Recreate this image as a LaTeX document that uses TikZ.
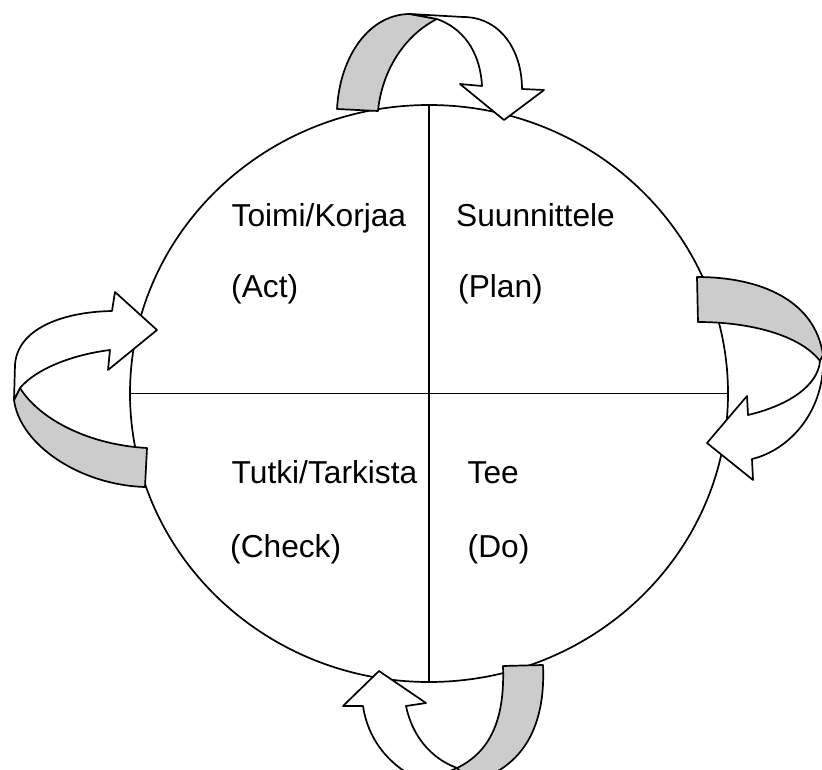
\documentclass[tikz,border=0pt]{standalone}
\usepackage{fontspec}
\setmainfont{Liberation Sans}
\usetikzlibrary{shapes.geometric}
\definecolor{band}{RGB}{204,204,204}
\begin{document}
\begin{tikzpicture}[x=1pt,y=-1pt,
  outline/.style={draw=black,line width=1.7pt,line join=round},
  backface/.style={outline,fill=band},
  frontface/.style={outline,fill=white},
  label/.style={anchor=base west,inner sep=0pt,font=\fontsize{31.7}{38}\selectfont}]
\useasboundingbox (0,0) rectangle (822,770);
\clip (0,0) rectangle (822,770);
% circle and dividers
\node[ellipse,draw,line width=1.7pt,minimum width=598pt,minimum height=577pt,inner sep=0pt] (cycle) at (429,393.5) {};
\draw[line width=1.7pt] (cycle.north) -- (cycle.south);
\draw[line width=1.7pt] (cycle.west) -- (cycle.east);
% top arrow
\draw[backface] (337,109) .. controls (340,55) and (370,14) .. (410,14) -- (437,19)
  .. controls (405,35) and (382,70) .. (378,111) -- cycle;
\draw[frontface] (410,14) -- (463,17) .. controls (500,17) and (522,50) .. (522,89)
  -- (544,90) -- (504,120) -- (460,84) -- (482,86)
  .. controls (480,50) and (462,28) .. (437,19) -- cycle;
% right arrow
\draw[backface] (697,277) .. controls (760,277) and (815,300) .. (823,355) -- (820,361)
  .. controls (800,335) and (750,322) .. (698,322) -- cycle;
\draw[frontface] (823,355) .. controls (826,410) and (790,450) .. (752,459)
  -- (753,480) -- (707,443) -- (747,396) -- (748,415)
  .. controls (790,405) and (818,385) .. (820,361) -- cycle;
% bottom arrow
\draw[backface] (503,666) -- (543,665) .. controls (546,730) and (520,770) .. (470,782)
  -- (457,768) .. controls (490,752) and (505,720) .. (503,666) -- cycle;
\draw[frontface] (363,706) .. controls (368,740) and (390,768) .. (425,782) -- (457,768)
  .. controls (430,758) and (412,735) .. (406,706) -- (426,703) -- (379,671) -- (343,706) -- cycle;
% left arrow
\draw[backface] (20,388) .. controls (40,420) and (90,445) .. (147,448) -- (145,487)
  .. controls (80,485) and (20,445) .. (14,400) -- cycle;
\draw[frontface] (14,400) -- (15,365) .. controls (17,330) and (60,312) .. (112,311)
  -- (115,292) -- (157,330) -- (108,370) -- (110,350)
  .. controls (70,355) and (35,370) .. (20,388) -- cycle;
% labels
\node[label] (act) at (231.5,227) {Toimi/Korjaa};
\node[label] (actE) at (231,298) {(Act)};
\node[label] (plan) at (456,227) {Suunnittele};
\node[label] (planE) at (458,298) {(Plan)};
\node[label] (check) at (231.5,483) {Tutki/Tarkista};
\node[label] (checkE) at (230,557) {(Check)};
\node[label] (do) at (467.5,483) {Tee};
\node[label] (doE) at (467.5,557) {(Do)};
\end{tikzpicture}
\end{document}
